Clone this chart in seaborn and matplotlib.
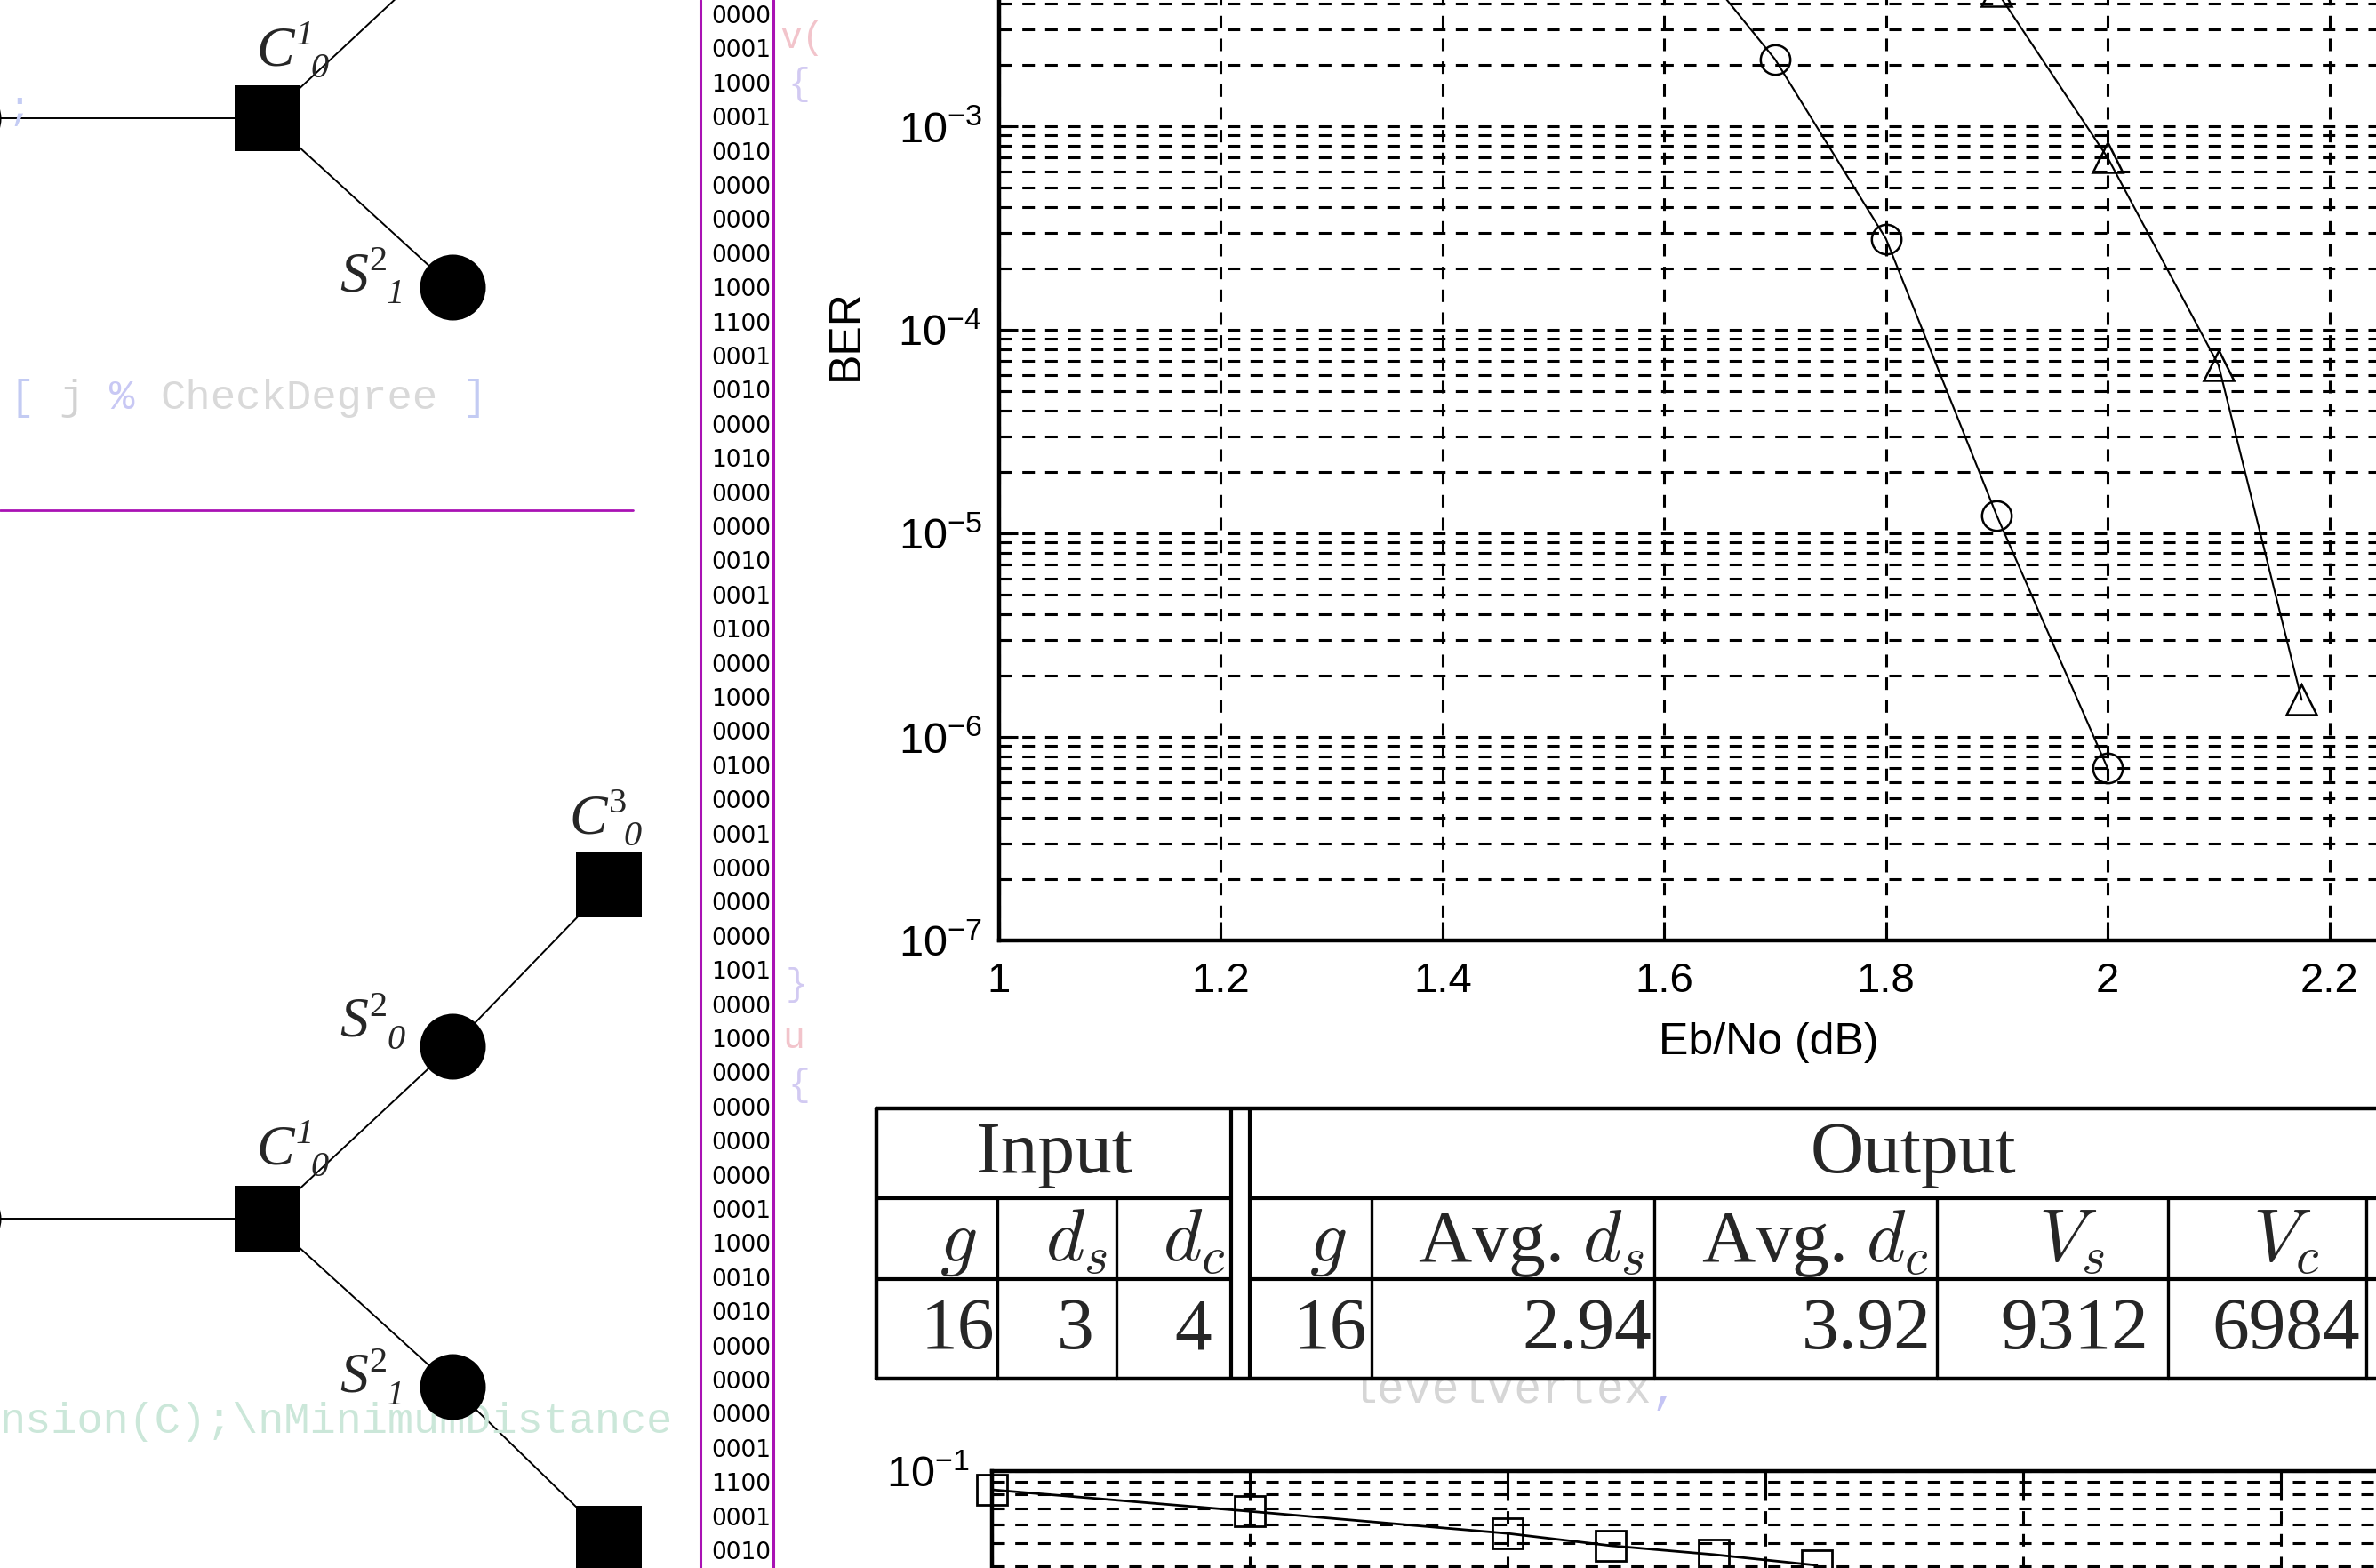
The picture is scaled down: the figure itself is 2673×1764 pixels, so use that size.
import numpy as np
import matplotlib
matplotlib.use('Agg')
import matplotlib.pyplot as plt
from matplotlib.patches import Rectangle
from matplotlib.ticker import LogLocator, NullFormatter, FuncFormatter
import seaborn as sns

W, H = 2673, 1764

# ---- main BER panel (Eb/No in dB) ----
ebno_circle = [1.6, 1.7, 1.8, 1.9, 2.0]
ber_circle = [1.0e-2, 2.13e-3, 2.8e-4, 1.22e-5, 7.0e-7]
ebno_triangle = [1.9, 2.0, 2.1, 2.175]
ber_triangle = [4.6e-3, 7.0e-4, 6.7e-5, 1.52e-6]
ebno_ticks = [1, 1.2, 1.4, 1.6, 1.8, 2, 2.2]

# ---- lower panel, only the top strip is visible ----
iter_square = [0, 10, 20, 24, 28, 32]
ber_square = [0.0836, 0.068, 0.055, 0.0489, 0.0449, 0.0405]

# ---- table ----
table_groups = ['Input', 'Output']
table_header = [r'$g$', r'$d_s$', r'$d_c$', r'$g$', r'Avg. $d_s$', r'Avg. $d_c$', r'$V_s$', r'$V_c$']
table_values = ['16', '3', '4', '16', '2.94', '3.92', '9312', '6984']

# ---- bit column ----
bit_rows = ['0000', '0001', '1000', '0001', '0010', '0000', '0000', '0000', '1000', '1100',
            '0001', '0010', '0000', '1010', '0000', '0000', '0010', '0001', '0100', '0000',
            '1000', '0000', '0100', '0000', '0001', '0000', '0000', '0000', '1001', '0000',
            '1000', '0000', '0000', '0000', '0000', '0001', '1000', '0010', '0010', '0000',
            '0000', '0000', '0001', '1100', '0001', '0010']

# ---- tree diagram (pixel space) ----
check_x = [301, 685, 301, 685]
check_y = [133, 995, 1371, 1731]
var_x = [-36, 509, 509, -36, 509, 509]
var_y = [133, -61, 323, 1371, 1177, 1560]
tree_edges = [(0, 0), (0, 1), (0, 2), (1, 4), (2, 4), (2, 3), (2, 5), (3, 5)]  # (check, var)
node_labels = [('C', '1', '0', 288, 73), ('S', '2', '1', 382, 327),
               ('C', '3', '0', 640, 937), ('S', '2', '0', 382, 1166),
               ('C', '1', '0', 288, 1309), ('S', '2', '1', 382, 1566)]

sns.set_style('white')
plt.rcParams['font.family'] = ['Liberation Sans', 'DejaVu Sans']
plt.rcParams['mathtext.fontset'] = 'custom'
plt.rcParams['mathtext.rm'] = 'Liberation Sans'
plt.rcParams['mathtext.it'] = 'Liberation Sans:italic'
plt.rcParams['mathtext.bf'] = 'Liberation Sans:bold'

fig = plt.figure(figsize=(W / 100, H / 100), dpi=100)


def px_rect(x0, y0, x1, y1):
    return [x0 / W, 1 - y1 / H, (x1 - x0) / W, (y1 - y0) / H]


DASH = (0, (4.6, 3.8))
GRID_LW = 2.2


def matlab_axes(a):
    a.set_yscale('log')
    a.yaxis.set_major_locator(LogLocator(base=10, numticks=30))
    a.yaxis.set_minor_locator(LogLocator(base=10, subs=np.arange(2, 10), numticks=100))
    a.yaxis.set_minor_formatter(NullFormatter())
    a.grid(True, which='major', color='k', lw=GRID_LW, ls=DASH)
    a.grid(True, which='minor', axis='y', color='k', lw=GRID_LW, ls=DASH)
    a.tick_params(which='both', direction='in', color='k', width=2.2,
                  bottom=True, left=True, top=True, right=True, labelcolor='k')
    a.tick_params(which='major', length=15)
    a.tick_params(which='minor', length=9)
    for s in a.spines.values():
        s.set_color('k')
        s.set_linewidth(3.2)


# main panel
ax = fig.add_axes(px_rect(1124, -87, 2870, 1058))
matlab_axes(ax)
sns.lineplot(x=ebno_circle, y=ber_circle, ax=ax, color='k', linewidth=1.5, marker='o',
             markersize=24, markerfacecolor='none', markeredgecolor='k', markeredgewidth=1.8)
sns.lineplot(x=ebno_triangle, y=ber_triangle, ax=ax, color='k', linewidth=1.5, marker='^',
             markersize=24, markerfacecolor='none', markeredgecolor='k', markeredgewidth=1.8)
ax.set_xlim(1, 2.4)
ax.set_ylim(1e-7, 1e-2)
ax.set_xticks(ebno_ticks)
ax.xaxis.set_major_formatter(FuncFormatter(lambda v, _: f'{v:g}'))
ax.tick_params(axis='x', pad=17, labelsize=34)
ax.tick_params(axis='y', pad=14, labelsize=35)
ax.set_xlabel('Eb/No (dB)', fontsize=36, color='k')
ax.xaxis.set_label_coords(0.496, -0.1004)
ax.xaxis.label.set_va('center')
ax.set_ylabel('BER', fontsize=36, color='k')
ax.yaxis.set_label_coords(-0.0985, 0.5948)
ax.yaxis.label.set_va('center')
ax.yaxis.label.set_ha('center')

# lower panel
ax2 = fig.add_axes(px_rect(1116, 1655, 2856, 2195))
matlab_axes(ax2)
sns.lineplot(x=iter_square, y=ber_square, ax=ax2, color='k', linewidth=2, marker='s',
             markersize=24, markerfacecolor='none', markeredgecolor='k', markeredgewidth=2,
             clip_on=False)
ax2.set_xlim(0, 60)
ax2.set_ylim(1e-3, 1e-1)
ax2.set_xticks(range(0, 61, 10))
ax2.tick_params(axis='y', pad=18, labelsize=35)
ax2.set_xlabel('')
ax2.set_ylabel('')

# overlay in pixel space: diagram, bit column, table, faint code text
ov = fig.add_axes([0, 0, 1, 1])
ov.set_xlim(0, W)
ov.set_ylim(H, 0)
ov.axis('off')

MAG = '#a912b4'
ov.plot([0, 712], [574, 574], color=MAG, lw=2)
ov.plot([788, 788], [0, H], color=MAG, lw=2.2)
ov.plot([870, 870], [0, H], color=MAG, lw=2.2)

for i, s in enumerate(bit_rows):
    ov.text(834, 19 + 38.4 * i, s, ha='center', va='center', fontsize=19,
            family='DejaVu Sans', color='k')

# faint code fragments
mono = 'Liberation Mono'
cw = 0.6 * 34 * 100 / 72
for txt, col, color in [('[', 0, '#c3cbf3'), ('j', 2, '#d2d2d2'), ('%', 4, '#c8c8f4'),
                        ('CheckDegree', 6, '#d9d9d9'), (']', 18, '#c3cbf3')]:
    ov.text(10 + col * cw, 448, txt, fontsize=34, family=mono, color=color, va='center')
ov.text(8, 123, ';', fontsize=32, family=mono, color='#c4ccf4', va='center')
ov.text(0, 1600, r'nsion(C);\nMinimumDistance', fontsize=35, family=mono,
        color='#cbe7d9', va='center')
for txt, x, y, color in [('v(', 878, 43, '#f2c4cb'), ('{', 886, 95, '#d2caf2'),
                         ('}', 884, 1108, '#d2caf2'), ('u', 880, 1168, '#f2c4cb'),
                         ('{', 886, 1221, '#d2caf2')]:
    ov.text(x, y, txt, fontsize=30, family=mono, color=color, va='center')
ov.text(1518, 1578, 'levelvertex', fontsize=37, family=mono, color='#d6d6d6',
        va='baseline', zorder=1)
ov.text(1518 + 11 * 0.6 * 37 * 100 / 72, 1578, ',', fontsize=37, family=mono,
        color='#c4c4f4', va='baseline', zorder=1)

# tree diagram
for c, v in tree_edges:
    ov.plot([check_x[c], var_x[v]], [check_y[c], var_y[v]], color='k', lw=1.4, zorder=2)
sns.scatterplot(x=check_x, y=check_y, marker='s', s=53.3 ** 2, color='k', linewidth=0,
                ax=ov, zorder=3)
sns.scatterplot(x=var_x, y=var_y, marker='o', s=53.3 ** 2, color='k', linewidth=0,
                ax=ov, zorder=3)
ov.set_xlim(0, W)
ov.set_ylim(H, 0)
serif = 'Liberation Serif'
for main, sup, sub, x, y in node_labels:
    dsup, dsub = (45, 61) if main == 'C' else (33, 53)
    ov.text(x, y, main, fontsize=46, family=serif, style='italic', va='baseline')
    ov.text(x + dsup, y - 23, sup, fontsize=29, family=serif,
            style='italic' if sup == '1' else 'normal', va='baseline')
    ov.text(x + dsub, y + 14, sub, fontsize=29, family=serif, style='italic', va='baseline')

# table
t_top, t_mid1, t_mid2, t_bot = 1247, 1348, 1439, 1551
col_right = [1122, 1256, 1385, 1543, 1861, 2179, 2439, 2662]
header_pad = [23, 10, 7, 28, 11, 9, 71, 52]
value_pad = [3, 25, 22, 5, 3, 6, 22, 7]
dbl = (1385, 1406)
ov.add_patch(Rectangle((986, t_top), W - 986, t_bot - t_top, facecolor='white',
                       edgecolor='none', zorder=3))
LW_OUT, LW_IN = 3.2, 2.4
ov.plot([986, W], [t_top, t_top], color='k', lw=LW_OUT, zorder=4)
ov.plot([986, W], [t_bot, t_bot], color='k', lw=LW_OUT, zorder=4)
ov.plot([986, 986], [t_top, t_bot], color='k', lw=LW_OUT, zorder=4)
for yy in (t_mid1, t_mid2):
    ov.plot([986, dbl[0]], [yy, yy], color='k', lw=LW_IN + 0.6, zorder=4)
    ov.plot([dbl[1], W], [yy, yy], color='k', lw=LW_IN + 0.6, zorder=4)
for xx in dbl:
    ov.plot([xx, xx], [t_top, t_bot], color='k', lw=LW_IN + 0.6, zorder=4)
for xx in [1122, 1256, 1543, 1861, 2179, 2439, 2662]:
    ov.plot([xx, xx], [t_mid1, t_bot], color='k', lw=LW_IN, zorder=4)

ov.text(1186, 1319, table_groups[0], fontsize=60, family=serif, ha='center',
        va='baseline', zorder=5)
ov.text(2152, 1319, table_groups[1], fontsize=60, family=serif, ha='center',
        va='baseline', zorder=5)
for i, (hd, val) in enumerate(zip(table_header, table_values)):
    ov.text(col_right[i] - header_pad[i], 1419, hd, fontsize=60, family=serif,
            math_fontfamily='cm', ha='right', va='baseline', zorder=5)
    ov.text(col_right[i] - value_pad[i], 1517, val, fontsize=60, family=serif,
            ha='right', va='baseline', zorder=5)

fig.savefig('out.png', dpi=100)
